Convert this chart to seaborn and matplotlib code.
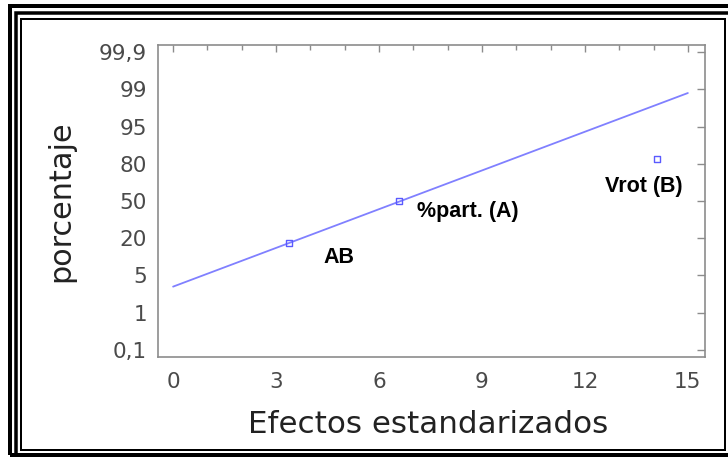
import numpy as np
import pandas as pd
import matplotlib
matplotlib.use("Agg")
import matplotlib.pyplot as plt
from matplotlib.patches import Rectangle
from matplotlib.ticker import FixedLocator, NullLocator, MultipleLocator
import seaborn as sns

# ---- data ----
effect_names = ["AB", "%part. (A)", "Vrot (B)"]
effect_values = [3.38, 6.59, 14.09]          # standardized effects
effect_pct = [18.0, 50.0, 82.0]              # cumulative percentage
fit_x = [0.0, 15.0]                          # reference line
fit_pct = [3.8, 98.6]
y_tick_vals = [0.1, 1, 5, 20, 50, 80, 95, 99, 99.9]
y_tick_labels = ["0,1", "1", "5", "20", "50", "80", "95", "99", "99,9"]
x_ticks = [0, 3, 6, 9, 12, 15]

sns.set_style("white")
plt.rcParams["font.family"] = ["DejaVu Sans"]

W, H = 728, 459
fig = plt.figure(figsize=(W / 100, H / 100), dpi=100)
fig.patch.set_facecolor("white")

def fx(px):
    return px / W

def fy(py):
    return 1 - py / H

ax = fig.add_axes([fx(158), fy(357), (705 - 158) / W, (357 - 45) / H])

# probability-paper-like scale with evenly spaced tick values
_vals = np.array(y_tick_vals, float)
_pos = np.arange(len(_vals), dtype=float)

def fwd(v):
    v = np.asarray(v, float)
    flat = np.atleast_1d(v).ravel()
    out = np.interp(flat, _vals, _pos)
    lo = flat < _vals[0]
    out[lo] = _pos[0] + (flat[lo] - _vals[0]) / (_vals[1] - _vals[0])
    hi = flat > _vals[-1]
    out[hi] = _pos[-1] + (flat[hi] - _vals[-1]) / (_vals[-1] - _vals[-2])
    return out.reshape(v.shape)

def inv(p):
    p = np.asarray(p, float)
    flat = np.atleast_1d(p).ravel()
    out = np.interp(flat, _pos, _vals)
    lo = flat < _pos[0]
    out[lo] = _vals[0] + (flat[lo] - _pos[0]) * (_vals[1] - _vals[0])
    hi = flat > _pos[-1]
    out[hi] = _vals[-1] + (flat[hi] - _pos[-1]) * (_vals[-1] - _vals[-2])
    return out.reshape(p.shape)

line_df = pd.DataFrame({"x": fit_x, "y": fit_pct})
pts_df = pd.DataFrame({"x": effect_values, "y": effect_pct, "name": effect_names})

sns.lineplot(data=line_df, x="x", y="y", ax=ax, color="#8080ff", lw=1.3)
sns.scatterplot(data=pts_df, x="x", y="y", ax=ax, marker="s", s=20,
                facecolor="none", edgecolor="#5a5aff", linewidth=1.0, zorder=3)

ax.set_yscale("function", functions=(fwd, inv))
ax.set_xlim(-0.44, 15.5)
ax.set_ylim(float(inv(-0.19)), float(inv(8.19)))

ax.yaxis.set_major_locator(FixedLocator(y_tick_vals))
ax.yaxis.set_minor_locator(NullLocator())
ax.set_yticklabels(y_tick_labels)
ax.set_xticks(x_ticks)
ax.xaxis.set_minor_locator(MultipleLocator(1))

tick_col = "#4a4a4a"
spine_col = "#8c8c8c"
for s in ax.spines.values():
    s.set_color(spine_col)
    s.set_linewidth(1.2)

ax.tick_params(axis="both", which="both", direction="in", top=True, right=True,
               color=spine_col, width=1.0)
ax.tick_params(axis="y", which="major", length=6, pad=8, labelsize=15.5, labelcolor=tick_col)
ax.tick_params(axis="x", which="major", length=5, pad=11, labelsize=15.5, labelcolor=tick_col)
ax.tick_params(axis="x", which="minor", length=3.5)
ax.set_xlabel("")
ax.set_ylabel("")
ax.grid(False)

# effect labels
offsets = {"AB": (34, -14), "%part. (A)": (18, -10), "Vrot (B)": (-52, -28)}
for name, xv, yv in zip(effect_names, effect_values, effect_pct):
    dx, dy = offsets[name]
    ax.annotate(name, xy=(xv, yv), xytext=(dx * 0.72, dy * 0.72),
                textcoords="offset points", ha="left", va="center",
                fontsize=15.5, fontweight="bold", color="black",
                family=["Liberation Sans"])

# axis titles
fig.text(fx(428), fy(433), "Efectos estandarizados", ha="center", va="baseline",
         fontsize=22.3, color="#222222")
fig.text(fx(61), fy(201), "porcentaje", ha="center", va="center", rotation=90,
         fontsize=21.8, color="#222222")

# double black frame
def frame(x0, y0, x1, y1, lw_px):
    r = Rectangle((fx(x0), fy(y1)), (x1 - x0) / W, (y1 - y0) / H,
                  transform=fig.transFigure, fill=False, edgecolor="black",
                  linewidth=lw_px * 0.72, joinstyle="miter")
    fig.add_artist(r)

frame(10, 6, 770, 455, 4)
frame(15.5, 13, 770, 455, 3.5)
frame(21, 19.2, 725, 450, 2)

fig.savefig("out.png", dpi=100, facecolor="white")
